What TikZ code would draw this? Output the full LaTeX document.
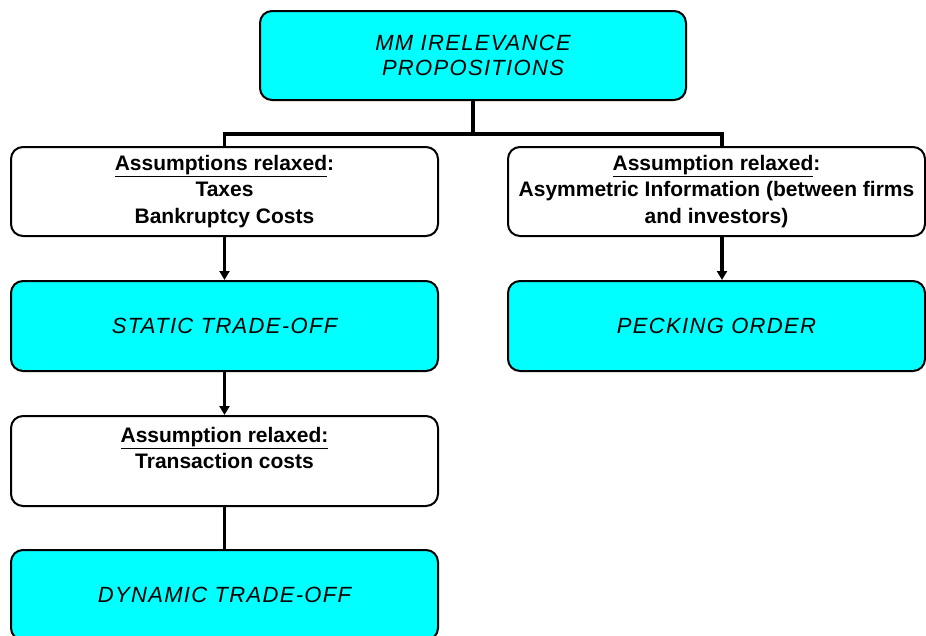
\documentclass[tikz,border=0pt]{standalone}
\usepackage{fontspec}
\setmainfont{Liberation Sans}
\newfontfamily\titlefont[LetterSpace=6]{Liberation Sans}
\usetikzlibrary{arrows.meta}
\definecolor{boxcyan}{RGB}{0,255,255}
\begin{document}
\begin{tikzpicture}[x=1pt,y=-1pt,
  base/.style={draw=black, line width=2pt, rounded corners=12pt, align=center, inner sep=0pt},
  whitebox/.style={base, fill=white, font=\fontsize{21}{26.5}\selectfont\bfseries},
  cyanbox/.style={base, fill=boxcyan, font=\titlefont\fontsize{22}{25}\selectfont\itshape},
  link/.style={line width=3.5pt},
  arrowlink/.style={link, -{Triangle[length=9pt,width=10pt]}}]
\useasboundingbox (0,0) rectangle (926,635);
\clip (0,0) rectangle (926,635);
\fill[white] (0,0) rectangle (926,635);

\node[cyanbox, minimum width=426pt, minimum height=89pt] (top) at (473,55.5)
  {MM IRELEVANCE\\ PROPOSITIONS};

\node[whitebox, minimum width=427pt, minimum height=89pt] (lb1) at (224.5,191.5)
  {\underline{Assumptions relaxed}:\\ Taxes\\ Bankruptcy Costs};

\node[whitebox, minimum width=417pt, minimum height=89pt] (rb1) at (716.5,191.5)
  {\underline{Assumption relaxed}:\\ \makebox[0pt]{Asymmetric Information (between firms}\\ and investors)};

\node[cyanbox, minimum width=427pt, minimum height=90pt] (sto) at (224.5,326)
  {STATIC TRADE-OFF};

\node[cyanbox, minimum width=417pt, minimum height=90pt] (po) at (716.5,326)
  {PECKING ORDER};

\node[whitebox, minimum width=427pt, minimum height=90pt] (tc) at (224.5,461)
  {\underline{Assumption relaxed:}\\ Transaction costs\\ \mbox{}};

\node[cyanbox, minimum width=427pt, minimum height=90pt] (dto) at (224.5,595)
  {DYNAMIC TRADE-OFF};

\coordinate (j) at (473,134);
\coordinate (rtop) at ([xshift=5.5pt]rb1.north);
\coordinate (rbot) at ([xshift=5.5pt]rb1.south);
\coordinate (ptop) at ([xshift=5.5pt]po.north);

\draw[link] (top.south) -- (j);
\draw[link] (lb1.north) |- (j) -| (rtop);
\draw[arrowlink] (lb1.south) -- (sto.north);
\draw[arrowlink] (rbot) -- (ptop);
\draw[arrowlink] (sto.south) -- (tc.north);
\draw[link] (tc.south) -- (dto.north);
\end{tikzpicture}
\end{document}
